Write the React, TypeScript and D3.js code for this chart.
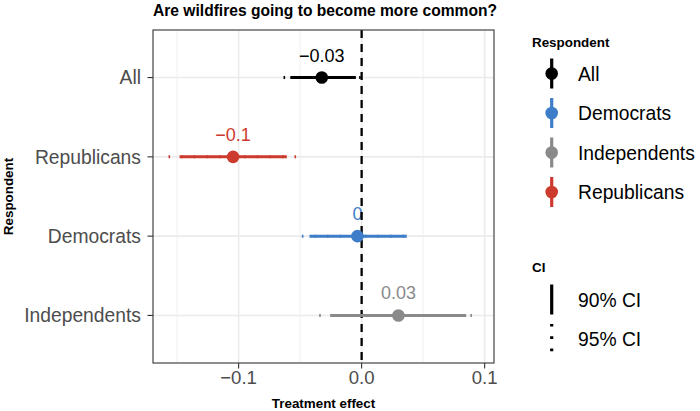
import React from "react";
import * as d3 from "d3";

const categories = ["All", "Republicans", "Democrats", "Independents"];
const estimates = [-0.0324, -0.1045, -0.0034, 0.0299];
const lo90 = [-0.058, -0.148, -0.0424, -0.0256];
const hi90 = [-0.0047, -0.0608, 0.0367, 0.085];
const lo95 = [-0.0635, -0.157, -0.0486, -0.0345];
const hi95 = [-0.0006, -0.053, 0.0418, 0.095];
const colors: Record<string, string> = {
  All: "#000000",
  Democrats: "#3E7DC8",
  Independents: "#8A8A8A",
  Republicans: "#CC3B2E",
};
const legendOrder = ["All", "Democrats", "Independents", "Republicans"];
const ciLabels = ["90% CI", "95% CI"];
const majorTicks = [-0.1, 0, 0.1];
const minorTicks = [-0.15, -0.05, 0.05];

const FONT = "'Liberation Sans', Arial, Helvetica, sans-serif";
const W = 700;
const H = 411;
const panel = { left: 153, right: 494, top: 30, bottom: 363 };

const fmtLabel = (v: number) => {
  const n = +v.toFixed(2);
  const s = String(n === 0 ? 0 : n);
  return s.replace("-", "\u2212");
};
const fmtTick = (v: number) => d3.format(".1f")(v).replace("-", "\u2212");

export default function App() {
  const lo = d3.min(lo95) as number;
  const hi = d3.max(hi95) as number;
  const pad = (hi - lo) * 0.05;
  const x = d3.scaleLinear().domain([lo - pad, hi + pad]).range([panel.left, panel.right]);
  const y = d3.scalePoint<string>().domain(categories).range([panel.top, panel.bottom]).padding(0.6);

  const dotted = "1.6 11";
  const legendX = 551.7;
  const legendStep = 39.5;
  const respY0 = 73.5;
  const ciY0 = 299.5;

  return (
    <svg
      width={W}
      height={H}
      style={{ position: "absolute", left: 0, top: 0, background: "#fff" }}
      fontFamily={FONT}
    >
      <rect x={0} y={0} width={W} height={H} fill="#fff" />
      {/* title */}
      <text x={panel.left} y={15.5} fontSize={15.6} fontWeight="bold" fill="#000">
        Are wildfires going to become more common?
      </text>

      {/* grid */}
      {minorTicks.map((t) => (
        <line key={"mi" + t} x1={x(t)} x2={x(t)} y1={panel.top} y2={panel.bottom} stroke="#EBEBEB" strokeWidth={0.8} />
      ))}
      {majorTicks.map((t) => (
        <line key={"ma" + t} x1={x(t)} x2={x(t)} y1={panel.top} y2={panel.bottom} stroke="#EBEBEB" strokeWidth={1.6} />
      ))}
      {categories.map((c) => (
        <line key={"hg" + c} x1={panel.left} x2={panel.right} y1={y(c)} y2={y(c)} stroke="#EBEBEB" strokeWidth={1.6} />
      ))}

      {/* labels */}
      {categories.map((c, i) => (
        <text
          key={"lab" + c}
          x={x(estimates[i])}
          y={(y(c) as number) - 16}
          fontSize={18}
          textAnchor="middle"
          fill={colors[c]}
        >
          {fmtLabel(estimates[i])}
        </text>
      ))}

      {/* zero line */}
      <line x1={x(0)} x2={x(0)} y1={panel.top} y2={panel.bottom} stroke="#000" strokeWidth={2.3} strokeDasharray="8 6" />

      {/* intervals */}
      {categories.map((c, i) => (
        <g key={"ci" + c}>
          <line
            x1={x(lo95[i])}
            x2={x(hi95[i])}
            y1={y(c)}
            y2={y(c)}
            stroke={colors[c]}
            strokeWidth={3}
            strokeDasharray={dotted}
          />
          <line x1={x(lo90[i])} x2={x(hi90[i])} y1={y(c)} y2={y(c)} stroke={colors[c]} strokeWidth={3} />
          <circle cx={x(estimates[i])} cy={y(c)} r={6.3} fill={colors[c]} />
        </g>
      ))}

      {/* panel border */}
      <rect
        x={panel.left}
        y={panel.top}
        width={panel.right - panel.left}
        height={panel.bottom - panel.top}
        fill="none"
        stroke="#333333"
        strokeWidth={1.1}
      />

      {/* y axis */}
      {categories.map((c) => (
        <g key={"yt" + c}>
          <line x1={panel.left - 5.5} x2={panel.left} y1={y(c)} y2={y(c)} stroke="#333333" strokeWidth={1.1} />
          <text x={panel.left - 12} y={(y(c) as number) + 6.8} fontSize={19.3} textAnchor="end" fill="#4D4D4D">
            {c}
          </text>
        </g>
      ))}
      <text
        transform={`translate(13, ${(panel.top + panel.bottom) / 2}) rotate(-90)`}
        fontSize={13.4}
        fontWeight="bold"
        textAnchor="middle"
        fill="#000"
      >
        Respondent
      </text>

      {/* x axis */}
      {majorTicks.map((t) => (
        <g key={"xt" + t}>
          <line x1={x(t)} x2={x(t)} y1={panel.bottom} y2={panel.bottom + 5.5} stroke="#333333" strokeWidth={1.1} />
          <text x={x(t)} y={383.5} fontSize={18.6} textAnchor="middle" fill="#4D4D4D">
            {fmtTick(t)}
          </text>
        </g>
      ))}
      <text
        x={(panel.left + panel.right) / 2}
        y={408}
        fontSize={13.4}
        fontWeight="bold"
        textAnchor="middle"
        fill="#000"
      >
        Treatment effect
      </text>

      {/* legend: Respondent */}
      <text x={532} y={46.5} fontSize={13.4} fontWeight="bold" fill="#000">
        Respondent
      </text>
      {legendOrder.map((c, i) => {
        const cy = respY0 + i * legendStep;
        return (
          <g key={"lg" + c}>
            <line x1={legendX} x2={legendX} y1={cy - 15} y2={cy + 15} stroke={colors[c]} strokeWidth={3.2} />
            <circle cx={legendX} cy={cy} r={6.3} fill={colors[c]} />
            <text x={578} y={cy + 7} fontSize={19.3} fill="#000">
              {c}
            </text>
          </g>
        );
      })}

      {/* legend: CI */}
      <text x={532} y={271.5} fontSize={13.4} fontWeight="bold" fill="#000">
        CI
      </text>
      {ciLabels.map((lab, i) => {
        const cy = ciY0 + i * legendStep;
        return (
          <g key={"ci" + lab}>
            <line
              x1={legendX}
              x2={legendX}
              y1={cy - 15}
              y2={cy + 15}
              stroke="#000"
              strokeWidth={3.2}
              strokeDasharray={i === 1 ? "2.6 9.7" : undefined}
            />
            <text x={578} y={cy + 7} fontSize={19.3} fill="#000">
              {lab}
            </text>
          </g>
        );
      })}
    </svg>
  );
}
